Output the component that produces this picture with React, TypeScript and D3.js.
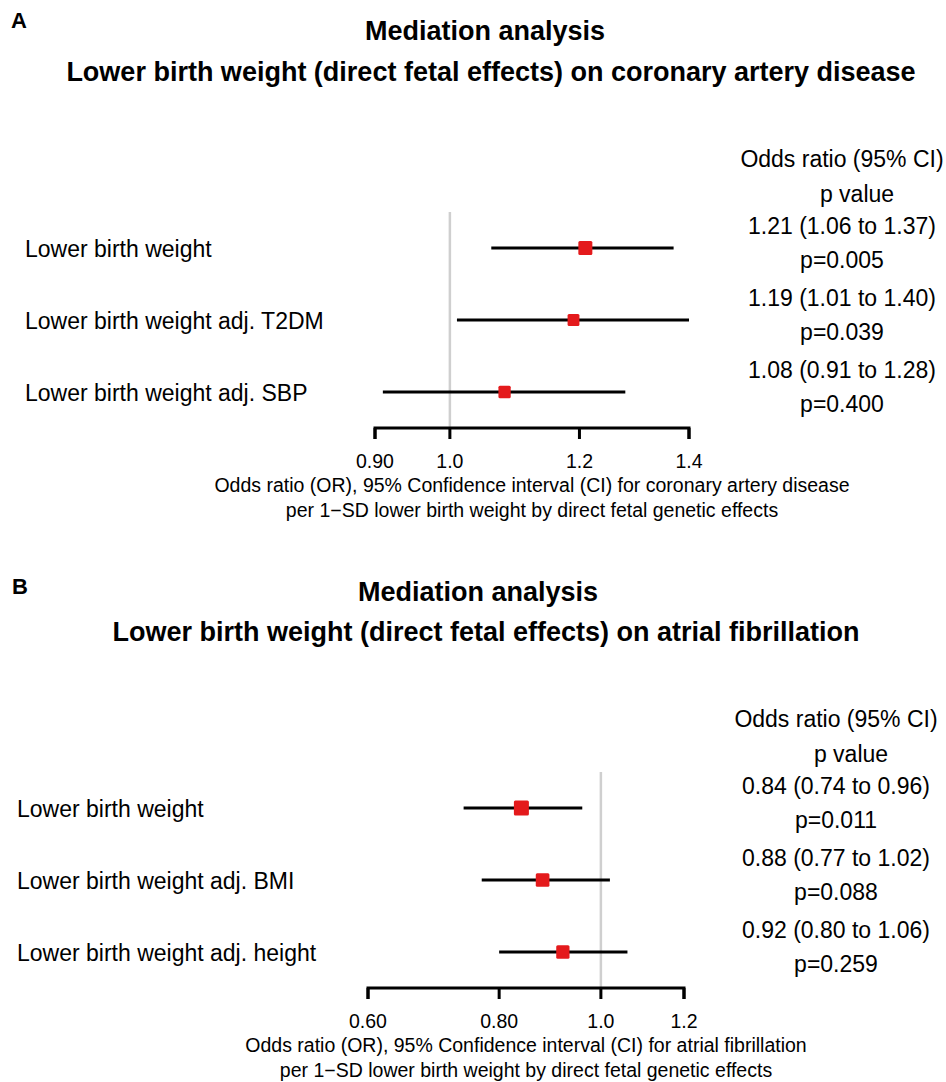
import React from "react";
import * as d3 from "d3";

// ---------- Data: Panel A ----------
const labelsA = ["Lower birth weight", "Lower birth weight adj. T2DM", "Lower birth weight adj. SBP"];
const orA = [1.21, 1.19, 1.08];
const loA = [1.06, 1.01, 0.91];
const hiA = [1.37, 1.40, 1.28];
const orTextA = ["1.21 (1.06 to 1.37)", "1.19 (1.01 to 1.40)", "1.08 (0.91 to 1.28)"];
const pTextA = ["p=0.005", "p=0.039", "p=0.400"];
const ticksA = [0.9, 1.0, 1.2, 1.4];
const tickLabelsA = ["0.90", "1.0", "1.2", "1.4"];
const titleA = ["Mediation analysis", "Lower birth weight (direct fetal effects) on coronary artery disease"];
const xlabA = [
  "Odds ratio (OR), 95% Confidence interval (CI) for coronary artery disease",
  "per 1\u2212SD lower birth weight by direct fetal genetic effects",
];

// ---------- Data: Panel B ----------
const labelsB = ["Lower birth weight", "Lower birth weight adj. BMI", "Lower birth weight adj. height"];
const orB = [0.84, 0.88, 0.92];
const loB = [0.74, 0.77, 0.80];
const hiB = [0.96, 1.02, 1.06];
const orTextB = ["0.84 (0.74 to 0.96)", "0.88 (0.77 to 1.02)", "0.92 (0.80 to 1.06)"];
const pTextB = ["p=0.011", "p=0.088", "p=0.259"];
const ticksB = [0.6, 0.8, 1.0, 1.2];
const tickLabelsB = ["0.60", "0.80", "1.0", "1.2"];
const titleB = ["Mediation analysis", "Lower birth weight (direct fetal effects) on atrial fibrillation"];
const xlabB = [
  "Odds ratio (OR), 95% Confidence interval (CI) for atrial fibrillation",
  "per 1\u2212SD lower birth weight by direct fetal genetic effects",
];

const header = ["Odds ratio (95% CI)", "p value"];

const FONT = "'Liberation Sans', Arial, Helvetica, sans-serif";

type PanelProps = {
  letter: string;
  letterX: number;
  letterY: number;
  title: string[];
  titleX: number[];
  titleY: number[];
  labels: string[];
  labelX: number;
  or: number[];
  lo: number[];
  hi: number[];
  orText: string[];
  pText: string[];
  ticks: number[];
  tickLabels: string[];
  xlab: string[];
  xRange: [number, number];
  rowY0: number;
  rowStep: number;
  colX: number;
  boxBase: number;
};

function Panel(p: PanelProps) {
  const domain: [number, number] = [p.ticks[0], p.ticks[p.ticks.length - 1]];
  const x = d3.scaleLog().domain(domain).range(p.xRange);
  const y = d3.scaleLinear().domain([0, 1]).range([p.rowY0, p.rowY0 + p.rowStep]);
  const axisY = y(p.labels.length - 1) + 36;
  const refTop = y(0) - 36;
  const widths = p.hi.map((h, i) => h - p.lo[i]);
  const info = widths.map((w) => 1 / w);
  const maxInfo = d3.max(info) as number;
  const axisMid = (p.xRange[0] + p.xRange[1]) / 2;

  return (
    <g fontFamily={FONT}>
      <text x={p.letterX} y={p.letterY} fontSize={22} fontWeight="bold" fill="#000">
        {p.letter}
      </text>
      {p.title.map((t, i) => (
        <text key={i} x={p.titleX[i]} y={p.titleY[i]} fontSize={27} fontWeight="bold" textAnchor="middle" fill="#000">
          {t}
        </text>
      ))}

      {/* reference line at OR = 1 */}
      <line x1={x(1)} x2={x(1)} y1={refTop} y2={axisY} stroke="#cfcfcf" strokeWidth={2.5} />

      {/* row labels */}
      {p.labels.map((l, i) => (
        <text key={i} x={p.labelX} y={y(i) + 8.5} fontSize={23} fill="#000">
          {l}
        </text>
      ))}

      {/* CIs and boxes */}
      {p.or.map((v, i) => {
        const s = p.boxBase * (0.75 * (info[i] / maxInfo) + 0.25);
        return (
          <g key={i}>
            <line x1={x(p.lo[i])} x2={x(p.hi[i])} y1={y(i)} y2={y(i)} stroke="#000" strokeWidth={3} />
            <rect x={x(v) - s / 2} y={y(i) - s / 2} width={s} height={s} rx={1.5} fill="#E41A1C" />
          </g>
        );
      })}

      {/* axis */}
      <path
        d={`M${x(domain[0])},${axisY + 11}V${axisY}H${x(domain[1])}V${axisY + 11}`}
        fill="none"
        stroke="#000"
        strokeWidth={3}
      />
      {p.ticks.map((t, i) => (
        <g key={i}>
          <line x1={x(t)} x2={x(t)} y1={axisY} y2={axisY + 11} stroke="#000" strokeWidth={3} />
          <text x={x(t)} y={axisY + 40} fontSize={19.5} textAnchor="middle" fill="#000">
            {p.tickLabels[i]}
          </text>
        </g>
      ))}
      {p.xlab.map((t, i) => (
        <text key={i} x={axisMid} y={axisY + 64 + i * 25} fontSize={19.5} textAnchor="middle" fill="#000">
          {t}
        </text>
      ))}

      {/* right column */}
      <text x={p.colX} y={y(0) - 81} fontSize={23} textAnchor="middle" fill="#000">
        {header[0]}
      </text>
      <text x={p.colX + 15} y={y(0) - 46} fontSize={23} textAnchor="middle" fill="#000">
        {header[1]}
      </text>
      {p.orText.map((t, i) => (
        <g key={i}>
          <text x={p.colX} y={y(i) - 14} fontSize={23} textAnchor="middle" fill="#000">
            {t}
          </text>
          <text x={p.colX} y={y(i) + 20} fontSize={23} textAnchor="middle" fill="#000">
            {p.pText[i]}
          </text>
        </g>
      ))}
    </g>
  );
}

export default function App() {
  return (
    <svg
      width={946}
      height={1082}
      viewBox="0 0 946 1082"
      style={{ position: "absolute", left: 0, top: 0, background: "#fff" }}
    >
      <rect width={946} height={1082} fill="#fff" />
      <Panel
        letter="A"
        letterX={11}
        letterY={28}
        title={titleA}
        titleX={[485, 491]}
        titleY={[40, 81]}
        labels={labelsA}
        labelX={25}
        or={orA}
        lo={loA}
        hi={hiA}
        orText={orTextA}
        pText={pTextA}
        ticks={ticksA}
        tickLabels={tickLabelsA}
        xlab={xlabA}
        xRange={[375, 689]}
        rowY0={248}
        rowStep={72}
        colX={842}
        boxBase={14}
      />
      <Panel
        letter="B"
        letterX={12}
        letterY={594}
        title={titleB}
        titleX={[478, 486]}
        titleY={[601, 641]}
        labels={labelsB}
        labelX={17}
        or={orB}
        lo={loB}
        hi={hiB}
        orText={orTextB}
        pText={pTextB}
        ticks={ticksB}
        tickLabels={tickLabelsB}
        xlab={xlabB}
        xRange={[368, 684]}
        rowY0={808}
        rowStep={72}
        colX={836}
        boxBase={15}
      />
    </svg>
  );
}
